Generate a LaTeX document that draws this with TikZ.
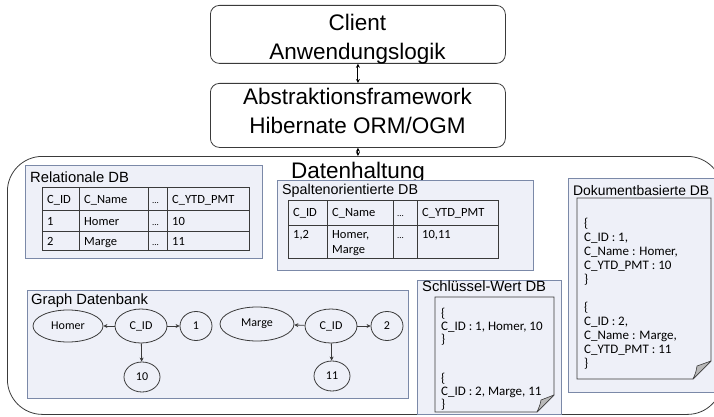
\documentclass[tikz,border=0pt]{standalone}
\usepackage{fontspec}
\setmainfont{Liberation Sans}
\newfontfamily\calfont{Carlito}
\usetikzlibrary{arrows.meta,shapes.geometric}
\definecolor{boxfill}{HTML}{EEF0F8}
\definecolor{boxline}{HTML}{7B89A8}
\definecolor{ink}{HTML}{3A3A3A}
\newcommand\mylines[1]{\begin{tabular}[t]{@{}l@{}}#1\end{tabular}}
\begin{document}
\begin{tikzpicture}[x=1pt,y=-1pt,
  toplayer/.style={draw=ink, rounded corners=9pt, line width=0.8pt, fill=white, anchor=north west, inner sep=0pt},
  bigtext/.style={anchor=base, inner sep=0pt, font=\fontsize{22.5}{26}\selectfont},
  dbbox/.style={draw=boxline, fill=boxfill, line width=0.8pt, anchor=north west, inner sep=0pt, outer sep=0pt},
  dbtitle/.style={anchor=base west, inner sep=0pt, font=\fontsize{14.8}{17}\selectfont},
  cell/.style={anchor=base west, inner sep=0pt, font=\calfont\fontsize{12.5}{15}\selectfont},
  dots/.style={anchor=base west, inner sep=0pt, font=\calfont\fontsize{9}{10}\selectfont},
  doctext/.style={anchor=base west, inner sep=0pt, font=\calfont\fontsize{13}{14}\selectfont},
  tline/.style={draw=ink, line width=0.9pt},
  docpage/.style={draw=ink, line width=0.9pt, fill=boxfill},
  fold/.style={fill=gray!55, draw=ink, line width=0.6pt, line join=round},
  gnode/.style={ellipse, draw=ink, line width=0.8pt, inner sep=0pt, fill=boxfill, font=\calfont\fontsize{12}{14}\selectfont},
  garr/.style={draw=ink, line width=0.8pt, -{Stealth[length=4pt,width=4pt]}},
  darr/.style={draw=black, line width=0.9pt, {Stealth[length=4pt,width=4pt]}-{Stealth[length=4pt,width=4pt]}}
]
\useasboundingbox (0,0) rectangle (714,417);
\clip (0,0) rectangle (714,417);

% top layers
\node[toplayer, minimum width=295pt, minimum height=58pt] (client) at (210,5) {};
\node[bigtext] (clientt) at (357.5,31) {Client};
\node[bigtext] (anwt) at (357.5,60) {Anwendungslogik};
\node[toplayer, minimum width=295pt, minimum height=64pt] (abstr) at (210,83) {};
\node[bigtext] (abstrt) at (357.5,105) {Abstraktionsframework};
\node[bigtext] (hibt) at (357.5,133) {Hibernate ORM/OGM};

% big container
\node[draw=ink, line width=0.8pt, rounded corners=35pt, minimum width=715pt, minimum height=258pt, anchor=north west, inner sep=0pt] (dh) at (7,156) {};
\draw[darr] (client.south) -- (abstr.north);
\draw[darr] (abstr.south) -- (abstr.south |- dh.north);
\node[bigtext] (dht) at (358,178) {Datenhaltung};

% Relationale DB
\node[dbbox, minimum width=237pt, minimum height=93pt] (rel) at (25,165) {};
\node[dbtitle] (relt) at (30,182) {Relationale DB};
\draw[tline] (42,187) rectangle (249,250);
\draw[tline] (42,210) -- (249,210) (42,231) -- (249,231)
  (79,187) -- (79,250) (148,187) -- (148,250) (167,187) -- (167,250);
\node[cell] (r11) at (47,203) {C\_ID};
\node[cell] (r12) at (84,203) {C\_Name};
\node[dots] (r13) at (152,203) {...};
\node[cell] (r14) at (172,203) {C\_YTD\_PMT};
\node[cell] (r21) at (47,225) {1};
\node[cell] (r22) at (84,225) {Homer};
\node[dots] (r23) at (152,225) {...};
\node[cell] (r24) at (172,225) {10};
\node[cell] (r31) at (47,245) {2};
\node[cell] (r32) at (84,245) {Marge};
\node[dots] (r33) at (152,245) {...};
\node[cell] (r34) at (172,245) {11};

% Spaltenorientierte DB
\node[dbbox, minimum width=256pt, minimum height=90pt] (col) at (277,180) {};
\node[dbtitle, font=\fontsize{14.3}{17}\selectfont] (colt) at (282,194) {Spaltenorientierte DB};
\draw[tline] (288,200) rectangle (498,258);
\draw[tline] (288,225) -- (498,225)
  (327,200) -- (327,258) (393,200) -- (393,258) (417,200) -- (417,258);
\node[cell] (c11) at (293,216) {C\_ID};
\node[cell] (c12) at (332,216) {C\_Name};
\node[dots] (c13) at (397,216) {...};
\node[cell] (c14) at (422,216) {C\_YTD\_PMT};
\node[cell] (c21) at (293,238) {1,2};
\node[cell] (c22) at (332,238) {\mylines{Homer,\\Marge}};
\node[dots] (c23) at (397,238) {...};
\node[cell] (c24) at (422,238) {10,11};

% Dokumentbasierte DB
\node[dbbox, minimum width=152pt, minimum height=214pt] (dok) at (568,178) {};
\node[dbtitle, font=\fontsize{13.9}{16}\selectfont] (dokt) at (573,195) {Dokumentbasierte DB};
\draw[docpage] (577,198) -- (711,198) -- (711,361) -- (693,379) -- (577,379) -- cycle;
\draw[fold] (711,361) -- (693,379) .. controls (696,372) .. (697,366) -- cycle;
\node[doctext] (dokx) at (584,227) {\mylines{\{\\C\_ID : 1,\\C\_Name : Homer,\\C\_YTD\_PMT : 10\\\}\\[14pt]\{\\C\_ID : 2,\\C\_Name : Marge,\\C\_YTD\_PMT : 11\\\}}};

% Graph Datenbank
\node[dbbox, minimum width=381pt, minimum height=108pt] (gra) at (27,290) {};
\node[dbtitle] (grat) at (31,304) {Graph Datenbank};
\node[gnode, minimum width=70pt, minimum height=32pt] (homer) at (68,326) {Homer};
\node[gnode, minimum width=52pt, minimum height=34pt] (cid1) at (141,326) {C\_ID};
\node[gnode, minimum width=32pt, minimum height=29pt] (one) at (196,326) {1};
\node[gnode, minimum width=36pt, minimum height=30pt] (ten) at (142,377) {10};
\node[gnode, minimum width=74pt, minimum height=34pt] (marge) at (257,324) {Marge};
\node[gnode, minimum width=52pt, minimum height=34pt] (cid2) at (331,326) {C\_ID};
\node[gnode, minimum width=32pt, minimum height=29pt] (two) at (387,326) {2};
\node[gnode, minimum width=36pt, minimum height=30pt] (eleven) at (332,376) {11};
\draw[garr] (cid1) -- (homer);
\draw[garr] (cid1) -- (one);
\draw[garr] (cid1) -- (ten);
\draw[garr] (cid2) -- (marge);
\draw[garr] (cid2) -- (two);
\draw[garr] (cid2) -- (eleven);

% Schluessel-Wert DB
\node[dbbox, minimum width=144pt, minimum height=134pt] (kv) at (417,280) {};
\node[dbtitle] (kvt) at (422,291) {Schlüssel-Wert DB};
\draw[docpage] (435,297) -- (554,297) -- (554,395) -- (537,412) -- (435,412) -- cycle;
\draw[fold] (554,395) -- (537,412) .. controls (540,405) .. (541,400) -- cycle;
\node[doctext, font=\calfont\fontsize{13}{13}\selectfont] (kvx) at (441,317) {\mylines{\{\\C\_ID : 1, Homer, 10\\\}\\[26pt]\{\\C\_ID : 2, Marge, 11\\\}}};
\end{tikzpicture}
\end{document}
